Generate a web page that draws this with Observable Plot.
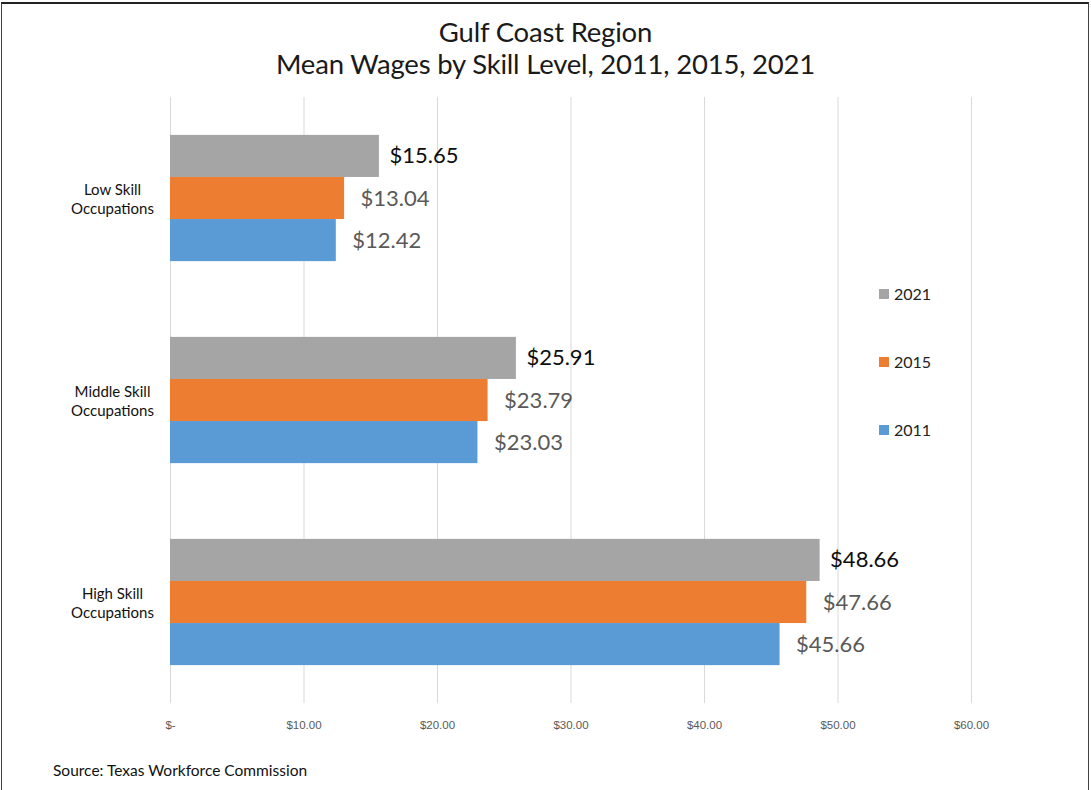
<!DOCTYPE html>
<html>
<head>
<meta charset="utf-8">
<script src="https://cdn.jsdelivr.net/npm/d3@7"></script>
<script src="https://cdn.jsdelivr.net/npm/@observablehq/plot@0.6"></script>
<style>
  html, body { margin: 0; padding: 0; background: #fff; }
  #frame {
    position: relative; width: 1091px; height: 790px; overflow: hidden;
    font-family: Lato, "Open Sans", sans-serif; background: #fff;
  }
  #border {
    position: absolute; left: 1px; top: 2px; width: 1086px; height: 800px;
    border-top: 2px solid #222; border-left: 1px solid #444; border-right: 1px solid #444;
  }
  #title {
    position: absolute; left: 0; top: 16px; width: 1091px; text-align: center;
    font-size: 27.5px; line-height: 32px; color: #1a1a1a; letter-spacing: -0.2px;
  }
  #chart { position: absolute; left: 0; top: 0; }
  #legend { position: absolute; left: 879px; top: 0; font-size: 16px; color: #222; }
  .item { position: absolute; left: 0; white-space: nowrap; display: flex; align-items: center; }
  .sw { width: 10px; height: 10px; margin-right: 5px; }
  #source { position: absolute; left: 53px; top: 761px; font-size: 15.5px; color: #111; }
</style>
</head>
<body>
<div id="frame">
  <div id="border"></div>
  <div id="title">Gulf Coast Region<br>Mean Wages by Skill Level, 2011, 2015, 2021</div>
  <div id="chart"></div>
  <div id="legend"></div>
  <div id="source">Source: Texas Workforce Commission</div>
</div>
<script>
const categories = ["Low Skill Occupations", "Middle Skill Occupations", "High Skill Occupations"];
const categoryLabels = ["Low Skill\nOccupations", "Middle Skill\nOccupations", "High Skill\nOccupations"];
const years = ["2021", "2015", "2011"];
const wages2021 = [15.65, 25.91, 48.66];
const wages2015 = [13.04, 23.79, 47.66];
const wages2011 = [12.42, 23.03, 45.66];
const xTicks = [0, 10, 20, 30, 40, 50, 60];
const yearColors = ["#A5A5A5", "#ED7D31", "#5B9BD5"];

const series = {"2021": wages2021, "2015": wages2015, "2011": wages2011};
const data = [];
categories.forEach((c, i) => {
  years.forEach(y => data.push({category: c, year: y, value: series[y][i]}));
});
const labelData = categories.map((c, i) => ({category: c, label: categoryLabels[i]}));

const fmtTick = v => v === 0 ? "$-" : "$" + d3.format(".2f")(v);
const fmtVal = v => "$" + d3.format(".2f")(v);

const chart = Plot.plot({
  width: 1091,
  height: 744,
  marginLeft: 170,
  marginRight: 120,
  marginTop: 97,
  marginBottom: 41,
  style: {fontFamily: "Lato, 'Open Sans', sans-serif", background: "transparent"},
  x: {domain: [0, 60], ticks: xTicks, tickFormat: fmtTick, grid: false, label: null},
  y: {domain: years, paddingInner: 0, paddingOuter: 0.9, round: false, axis: null},
  fy: {domain: categories, padding: 0, round: false, axis: null},
  color: {domain: years, range: yearColors},
  marks: [
    Plot.ruleX(xTicks, {x: d => d, stroke: "#D9D9D9", strokeWidth: 1}),
    Plot.barX(data, {x: "value", y: "year", fy: "category", fill: "year"}),
    Plot.text(data.filter(d => d.year === "2021"), {
      x: "value", y: "year", fy: "category", text: d => fmtVal(d.value),
      textAnchor: "start", dx: 10, fontSize: 22, fill: "#0d0d0d"
    }),
    Plot.text(data.filter(d => d.year !== "2021"), {
      x: "value", y: "year", fy: "category", text: d => fmtVal(d.value),
      textAnchor: "start", dx: 16, fontSize: 22, fill: "#595959"
    }),
    Plot.text(labelData, {
      fy: "category", text: "label", frameAnchor: "left", dx: -58,
      textAnchor: "middle", fontSize: 15, lineHeight: 1.3, fill: "#111"
    }),
    Plot.axisX({ticks: xTicks, tickFormat: fmtTick, tickSize: 0, tickPadding: 17,
      fontSize: 11.5, fill: "#595959", label: null,
      fontFamily: "'Liberation Sans Narrow', 'Liberation Sans', sans-serif"})
  ]
});
document.getElementById("chart").appendChild(chart);

const legend = document.getElementById("legend");
const legendTops = {"2021": 284, "2015": 352, "2011": 420};
years.forEach((y, i) => {
  const it = document.createElement("div");
  it.className = "item";
  it.style.top = legendTops[y] + "px";
  it.innerHTML = `<span class="sw" style="background:${yearColors[i]}"></span><span>${y}</span>`;
  legend.appendChild(it);
});
</script>
</body>
</html>
